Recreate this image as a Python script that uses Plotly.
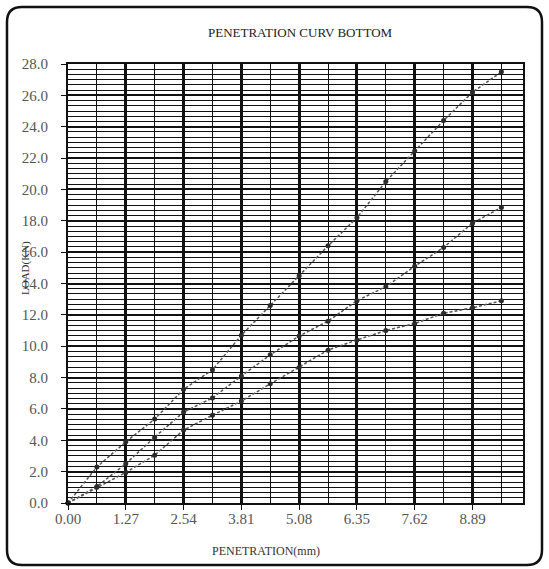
import plotly.graph_objects as go

# Penetration (mm) at which each load reading was taken
penetration = [0.0, 0.635, 1.27, 1.905, 2.54, 3.175, 3.81, 4.445, 5.08,
               5.715, 6.35, 6.985, 7.62, 8.255, 8.89, 9.525]

# Load (kN) readings for the three specimens
load_a = [0.0, 2.3, 3.9, 5.35, 7.25, 8.5, 10.7, 12.6, 14.5,
          16.4, 18.2, 20.5, 22.45, 24.4, 26.2, 27.5]
load_b = [0.0, 1.05, 2.5, 4.2, 5.8, 6.7, 8.1, 9.45, 10.65,
          11.6, 12.9, 13.8, 15.1, 16.3, 17.85, 18.85]
load_c = [0.0, 1.0, 1.95, 3.05, 4.65, 5.6, 6.5, 7.6, 8.65,
          9.75, 10.4, 11.0, 11.45, 12.1, 12.45, 12.9]

x_ticks = [0.0, 1.27, 2.54, 3.81, 5.08, 6.35, 7.62, 8.89]
x_tick_text = ["0.00", "1.27", "2.54", "3.81", "5.08", "6.35", "7.62", "8.89"]
y_ticks = [0, 2, 4, 6, 8, 10, 12, 14, 16, 18, 20, 22, 24, 26, 28]
y_tick_text = [f"{v:.1f}" for v in y_ticks]

W, H = 549, 569
ML, MR, MT, MB = 68, 26, 64, 66
PW, PH = W - ML - MR, H - MT - MB

FONT = "Liberation Serif"

fig = go.Figure()
for series in (load_a, load_b, load_c):
    fig.add_trace(go.Scatter(
        x=penetration, y=series, mode="lines+markers",
        line=dict(color="#555555", width=1.5, dash="3px,2px"),
        marker=dict(size=5, color="#2a2a2a", symbol="circle"),
        showlegend=False, cliponaxis=False,
    ))


def px_x(p):
    return (p - ML) / PW


def px_y(p):
    return (H - MB - p) / PH


def rounded_box(x0, y0, x1, y1, r):
    pts = [
        ("M", [(x0 + r, y0)]),
        ("L", [(x1 - r, y0)]),
        ("Q", [(x1, y0), (x1, y0 + r)]),
        ("L", [(x1, y1 - r)]),
        ("Q", [(x1, y1), (x1 - r, y1)]),
        ("L", [(x0 + r, y1)]),
        ("Q", [(x0, y1), (x0, y1 - r)]),
        ("L", [(x0, y0 + r)]),
        ("Q", [(x0, y0), (x0 + r, y0)]),
    ]
    out = []
    for cmd, coords in pts:
        out.append(cmd + " " + " ".join(f"{px_x(a):.5f},{px_y(b):.5f}" for a, b in coords))
    return " ".join(out) + " Z"


fig.add_shape(type="path", xref="paper", yref="paper",
              path=rounded_box(7, 7, 542, 565, 15),
              line=dict(color="#111111", width=2.5), layer="below")

fig.update_xaxes(
    range=[0, 10], tickvals=x_ticks, ticktext=x_tick_text,
    showgrid=True, gridcolor="#111111", gridwidth=2.6,
    minor=dict(dtick=0.635, tick0=0, showgrid=True, gridcolor="#111111", gridwidth=1.4),
    ticks="outside", ticklen=5, tickcolor="#111111", ticklabelstandoff=-4,
    showline=True, linecolor="#111111", linewidth=2, mirror=True,
    zeroline=False,
    tickfont=dict(family=FONT, size=15, color="#555555"),
)
fig.update_yaxes(
    range=[0, 28], tickvals=y_ticks, ticktext=y_tick_text,
    showgrid=True, gridcolor="#111111", gridwidth=1.6,
    minor=dict(dtick=1 / 3, tick0=0, showgrid=True, gridcolor="#111111", gridwidth=1.3),
    ticks="outside", ticklen=5, tickcolor="#111111", ticklabelstandoff=10,
    showline=True, linecolor="#111111", linewidth=2, mirror=True,
    zeroline=False,
    tickfont=dict(family=FONT, size=15, color="#555555"),
)

fig.add_annotation(text="PENETRATION CURV BOTTOM", xref="paper", yref="paper",
                   x=px_x(300), y=px_y(33), xanchor="center", yanchor="middle",
                   showarrow=False,
                   font=dict(family=FONT, size=13, color="#222222"))
fig.add_annotation(text="PENETRATION(mm)", xref="paper", yref="paper",
                   x=px_x(266), y=px_y(551), xanchor="center", yanchor="middle",
                   showarrow=False,
                   font=dict(family=FONT, size=12, color="#333333"))
fig.add_annotation(text="LOAD(KN)", xref="paper", yref="paper",
                   x=px_x(25), y=px_y(268), xanchor="center", yanchor="middle",
                   showarrow=False, textangle=-90,
                   font=dict(family=FONT, size=11, color="#333333"))

fig.update_layout(
    width=W, height=H,
    margin=dict(l=ML, r=MR, t=MT, b=MB),
    paper_bgcolor="white", plot_bgcolor="white",
)

fig.write_html("out.html")
